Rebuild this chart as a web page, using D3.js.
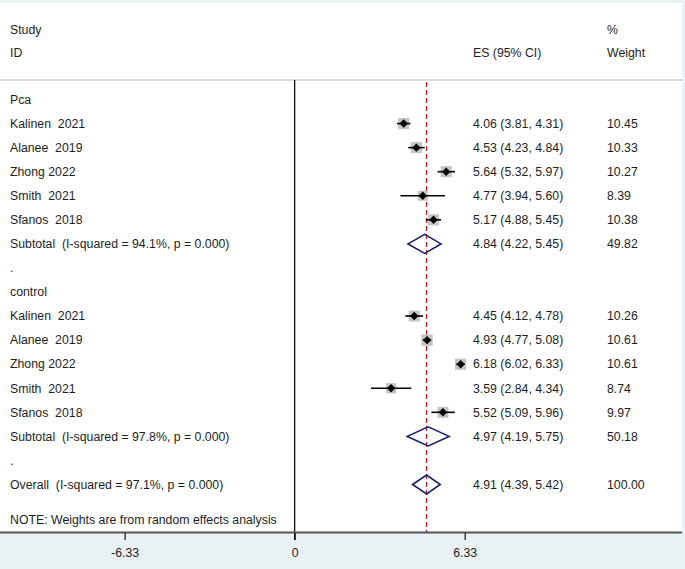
<!DOCTYPE html>
<html><head><meta charset="utf-8">
<script src="https://cdn.jsdelivr.net/npm/d3@7"></script>
<style>
html,body{margin:0;padding:0;background:#e9f1f4;}
svg{display:block;}
text{font-family:"Liberation Sans",Arial,sans-serif;font-size:12.3px;fill:#1e1e1e;white-space:pre;}
</style></head><body>
<svg id="c" width="685" height="569"></svg>
<script>
// ---- data ----
const groups = ["Pca", "control"];
const studies = ["Kalinen  2021", "Alanee  2019", "Zhong 2022", "Smith  2021", "Sfanos  2018"];
const pcaES = [4.06, 4.53, 5.64, 4.77, 5.17];
const pcaLo = [3.81, 4.23, 5.32, 3.94, 4.88];
const pcaHi = [4.31, 4.84, 5.97, 5.60, 5.45];
const pcaW  = [10.45, 10.33, 10.27, 8.39, 10.38];
const ctlES = [4.45, 4.93, 6.18, 3.59, 5.52];
const ctlLo = [4.12, 4.77, 6.02, 2.84, 5.09];
const ctlHi = [4.78, 5.08, 6.33, 4.34, 5.96];
const ctlW  = [10.26, 10.61, 10.61, 8.74, 9.97];
const subLabels = ["Subtotal  (I-squared = 94.1%, p = 0.000)", "Subtotal  (I-squared = 97.8%, p = 0.000)"];
const subES = [4.84, 4.97];
const subLo = [4.22, 4.19];
const subHi = [5.45, 5.75];
const subW  = [49.82, 50.18];
const overallLabel = "Overall  (I-squared = 97.1%, p = 0.000)";
const overall = {es: 4.91, lo: 4.39, hi: 5.42, w: 100.00};
const tickValues = [-6.33, 0, 6.33];
const tickLabels = ["-6.33", "0", "6.33"];
const note = "NOTE: Weights are from random effects analysis";

// ---- build rows ----
const rows = [];
const sets = [[pcaES, pcaLo, pcaHi, pcaW], [ctlES, ctlLo, ctlHi, ctlW]];
groups.forEach((g, gi) => {
  rows.push({type: "header", label: g});
  const [es, lo, hi, w] = sets[gi];
  studies.forEach((s, i) => rows.push({type: "study", label: s, es: es[i], lo: lo[i], hi: hi[i], w: w[i]}));
  rows.push({type: "sub", label: subLabels[gi], es: subES[gi], lo: subLo[gi], hi: subHi[gi], w: subW[gi]});
  rows.push({type: "blank", label: "."});
});
rows.push({type: "sub", label: overallLabel, es: overall.es, lo: overall.lo, hi: overall.hi, w: overall.w});

const f2 = d3.format(".2f");
const svg = d3.select("#c");
const x = d3.scaleLinear().domain([-6.33, 6.33]).range([124.6, 464.7]);
const y = d3.scaleLinear().domain([0, 16]).range([99.5, 484.5]);
const panelBottom = 532;
const headerLine = 80;

// panel
svg.append("rect").attr("x", 0).attr("y", 3).attr("width", 682).attr("height", panelBottom - 3).attr("fill", "#fff");
svg.append("line").attr("x1", 0).attr("x2", 682).attr("y1", headerLine).attr("y2", headerLine)
  .attr("stroke", "#b5b5b5").attr("stroke-width", 1.2);

// header texts
svg.append("text").attr("x", 10).attr("y", 30).attr("dy", "0.35em").text("Study");
svg.append("text").attr("x", 10).attr("y", 53).attr("dy", "0.35em").text("ID");
svg.append("text").attr("x", 473).attr("y", 53).attr("dy", "0.35em").text("ES (95% CI)");
svg.append("text").attr("x", 607).attr("y", 30).attr("dy", "0.35em").text("%");
svg.append("text").attr("x", 607).attr("y", 53).attr("dy", "0.35em").text("Weight");

// null line
svg.append("line").attr("x1", x(0)).attr("x2", x(0)).attr("y1", headerLine).attr("y2", panelBottom + 8)
  .attr("stroke", "#111").attr("stroke-width", 1.3);
// overall dashed line
svg.append("line").attr("x1", x(overall.es)).attr("x2", x(overall.es)).attr("y1", headerLine + 2).attr("y2", panelBottom)
  .attr("stroke", "#b22222").attr("stroke-width", 1.3).attr("stroke-dasharray", "5,3");

// labels
svg.selectAll("text.lab").data(rows).join("text").attr("class", "lab")
  .attr("x", 10).attr("y", (d, i) => y(i)).attr("dy", "0.35em").text(d => d.label);
svg.selectAll("text.es").data(rows).join("text").attr("class", "es")
  .attr("x", 473).attr("y", (d, i) => y(i)).attr("dy", "0.35em")
  .text(d => d.es !== undefined ? `${f2(d.es)} (${f2(d.lo)}, ${f2(d.hi)})` : "");
svg.selectAll("text.w").data(rows).join("text").attr("class", "w")
  .attr("x", 607).attr("y", (d, i) => y(i)).attr("dy", "0.35em")
  .text(d => d.w !== undefined ? f2(d.w) : "");

// study marks
const st = rows.map((d, i) => ({...d, i})).filter(d => d.type === "study");
const side = w => 3.45 * Math.sqrt(w);
svg.selectAll("rect.box").data(st).join("rect").attr("class", "box")
  .attr("x", d => x(d.es) - side(d.w) / 2).attr("y", d => y(d.i) - side(d.w) / 2)
  .attr("width", d => side(d.w)).attr("height", d => side(d.w)).attr("fill", "#c4c4c4");
svg.selectAll("line.ci").data(st).join("line").attr("class", "ci")
  .attr("x1", d => x(d.lo)).attr("x2", d => x(d.hi)).attr("y1", d => y(d.i)).attr("y2", d => y(d.i))
  .attr("stroke", "#000").attr("stroke-width", 1.6);
svg.selectAll("path.pt").data(st).join("path").attr("class", "pt")
  .attr("d", d => { const cx = x(d.es), cy = y(d.i), r = 4.2; return `M${cx - r},${cy}L${cx},${cy - r}L${cx + r},${cy}L${cx},${cy + r}Z`; })
  .attr("fill", "#000");

// diamonds
const sb = rows.map((d, i) => ({...d, i})).filter(d => d.type === "sub");
svg.selectAll("path.dia").data(sb).join("path").attr("class", "dia")
  .attr("d", d => { const cy = y(d.i), h = 9.5; return `M${x(d.lo)},${cy}L${x(d.es)},${cy - h}L${x(d.hi)},${cy}L${x(d.es)},${cy + h}Z`; })
  .attr("fill", "none").attr("stroke", "#1a1f6e").attr("stroke-width", 1.6);

// note
svg.append("text").attr("x", 10).attr("y", 520).attr("dy", "0.35em").text(note);

// axis
svg.append("line").attr("x1", 0).attr("x2", 682).attr("y1", panelBottom + 0.5).attr("y2", panelBottom + 0.5)
  .attr("stroke", "#555").attr("stroke-width", 2);
const ax = svg.append("g").attr("transform", `translate(0,${panelBottom + 1})`)
  .call(d3.axisBottom(x).tickValues(tickValues).tickFormat((d, i) => tickLabels[i]).tickSize(7).tickPadding(8));
ax.select(".domain").remove();
ax.selectAll("line").attr("stroke", "#111").attr("stroke-width", 1.2);
ax.selectAll("text").attr("font-size", "12.3px").attr("font-family", "Liberation Sans, Arial, sans-serif").attr("fill", "#1e1e1e");
</script>
</body></html>
